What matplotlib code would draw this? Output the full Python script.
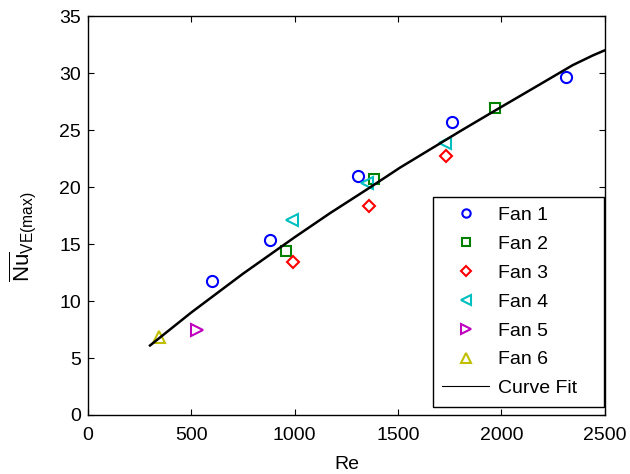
import matplotlib
matplotlib.use('Agg')
import matplotlib.pyplot as plt

plt.rcParams['font.family'] = ['Liberation Sans', 'DejaVu Sans']
plt.rcParams['mathtext.fontset'] = 'custom'
plt.rcParams['mathtext.rm'] = 'Liberation Sans'
plt.rcParams['mathtext.it'] = 'Liberation Sans:italic'

# data
fan1_re = [600, 880, 1306, 1760, 2311]
fan1_nu = [11.75, 15.35, 20.96, 25.7, 29.65]
fan2_re = [957, 1383, 1968]
fan2_nu = [14.4, 20.7, 26.9]
fan3_re = [991, 1359, 1731]
fan3_nu = [13.4, 18.3, 22.7]
fan4_re = [986, 1349, 1726]
fan4_nu = [17.1, 20.35, 23.9]
fan5_re = [527]
fan5_nu = [7.45]
fan6_re = [343]
fan6_nu = [6.85]

fit_re = [300, 500, 750, 1000, 1170, 1350, 1509, 1700, 1800,
          1968, 2171, 2345, 2442, 2500]
fit_nu = [6.1, 9.0, 12.4, 15.6, 17.7, 19.8, 21.7, 23.8, 24.9,
          26.7, 28.85, 30.7, 31.55, 32.0]

fig = plt.figure(figsize=(6.3, 4.74), dpi=100)
ax = fig.add_axes([0.1397, 0.1245, 0.8203, 0.8415])

ms = 8
mew = 1.5
ax.plot(fan1_re, fan1_nu, 'o', mfc='none', mec=(0, 0, 1), ms=ms, mew=mew, label='Fan 1')
ax.plot(fan2_re, fan2_nu, 's', mfc='none', mec=(0, 0.5, 0), ms=ms*0.95, mew=mew, label='Fan 2')
ax.plot(fan3_re, fan3_nu, 'D', mfc='none', mec=(1, 0, 0), ms=ms*0.8, mew=mew, label='Fan 3')
ax.plot(fan4_re, fan4_nu, '<', mfc='none', mec=(0, 0.75, 0.75), ms=ms+1, mew=mew, label='Fan 4')
ax.plot(fan5_re, fan5_nu, '>', mfc='none', mec=(0.75, 0, 0.75), ms=ms+1, mew=mew, label='Fan 5')
ax.plot(fan6_re, fan6_nu, '^', mfc='none', mec=(0.75, 0.75, 0), ms=ms+1, mew=mew, label='Fan 6')
ax.plot(fit_re, fit_nu, '-', color='k', lw=1.8, label='Curve Fit')

ax.set_xlim(0, 2500)
ax.set_ylim(0, 35)
ax.set_xticks(range(0, 2501, 500))
ax.set_yticks(range(0, 36, 5))
ax.tick_params(direction='in', top=True, right=True, labelsize=14, length=4.5, width=0.8)
ax.tick_params(axis='x', pad=9)
ax.tick_params(axis='y', pad=5)
for s in ax.spines.values():
    s.set_linewidth(1.0)

ax.set_xlabel('Re', fontsize=14, labelpad=8)
ax.set_ylabel(r'$\overline{\mathrm{Nu}}_{\mathrm{VE(max)}}$', fontsize=16)
ax.yaxis.set_label_coords(-0.097, 0.446)

leg = ax.legend(loc='lower right', bbox_to_anchor=(0.667, 0.02, 0.331, 0.1), mode='expand',
                borderaxespad=0,
                fontsize=14, fancybox=False, edgecolor='k', framealpha=1,
                markerscale=0.75, handlelength=2.4, labelspacing=0.58,
                borderpad=0.5, handletextpad=0.45)
leg.get_frame().set_linewidth(1.0)
leg.get_lines()[-1].set_linewidth(0.8)

plt.savefig('out.png', dpi=100)
